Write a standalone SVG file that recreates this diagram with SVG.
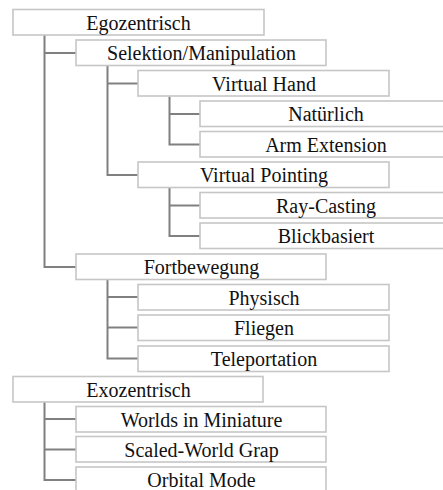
<svg xmlns="http://www.w3.org/2000/svg" width="443" height="490" viewBox="0 0 443 490">
<style>
.box{fill:#ffffff;stroke:#c6c6c6;stroke-width:1.6}
.con{fill:none;stroke:#808080;stroke-width:2}
</style>
<rect width="443" height="490" fill="#ffffff"/>
<g id="connectors">
<path class="con" d="M44.5,35 V267 H76"/>
<path class="con" d="M44.5,53 H76"/>
<path class="con" d="M107.5,66 V175 H138"/>
<path class="con" d="M107.5,83.5 H138"/>
<path class="con" d="M169.5,96.5 V144.5 H200"/>
<path class="con" d="M169.5,114 H200"/>
<path class="con" d="M169.5,188 V236 H200"/>
<path class="con" d="M169.5,205.5 H200"/>
<path class="con" d="M107.5,279.5 V358.5 H138"/>
<path class="con" d="M107.5,297 H138"/>
<path class="con" d="M107.5,327.5 H138"/>
<path class="con" d="M44.5,402 V480 H76"/>
<path class="con" d="M44.5,419 H76"/>
<path class="con" d="M44.5,449.5 H76"/>
</g>
<g id="n-egozentrisch"><rect class="box" x="13" y="9.5" width="251" height="25.5"/><text style="font-family:'Liberation Serif',serif;font-size:20px;fill:#111;text-anchor:middle" x="138.5" y="29.5">Egozentrisch</text></g>
<g id="n-selektion"><rect class="box" x="76" y="40" width="250" height="25.5"/><text style="font-family:'Liberation Serif',serif;font-size:20px;fill:#111;text-anchor:middle" x="201.5" y="60">Selektion/Manipulation</text></g>
<g id="n-virtualhand"><rect class="box" x="138" y="70.5" width="251" height="25.5"/><text style="font-family:'Liberation Serif',serif;font-size:20px;fill:#111;text-anchor:middle" x="264" y="90.5">Virtual Hand</text></g>
<g id="n-natuerlich"><rect class="box" x="200" y="101" width="252" height="25.5"/><text style="font-family:'Liberation Serif',serif;font-size:20px;fill:#111;text-anchor:middle" x="326" y="121">Natürlich</text></g>
<g id="n-armextension"><rect class="box" x="200" y="131.5" width="252" height="25.5"/><text style="font-family:'Liberation Serif',serif;font-size:20px;fill:#111;text-anchor:middle" x="326" y="151.5">Arm Extension</text></g>
<g id="n-virtualpointing"><rect class="box" x="138" y="162" width="251" height="25.5"/><text style="font-family:'Liberation Serif',serif;font-size:20px;fill:#111;text-anchor:middle" x="264" y="182">Virtual Pointing</text></g>
<g id="n-raycasting"><rect class="box" x="200" y="192.5" width="252" height="25.5"/><text style="font-family:'Liberation Serif',serif;font-size:20px;fill:#111;text-anchor:middle" x="326" y="212.5">Ray-Casting</text></g>
<g id="n-blickbasiert"><rect class="box" x="200" y="223" width="252" height="25.5"/><text style="font-family:'Liberation Serif',serif;font-size:20px;fill:#111;text-anchor:middle" x="326" y="243">Blickbasiert</text></g>
<g id="n-fortbewegung"><rect class="box" x="76" y="254" width="250" height="25.5"/><text style="font-family:'Liberation Serif',serif;font-size:20px;fill:#111;text-anchor:middle" x="201.5" y="274">Fortbewegung</text></g>
<g id="n-physisch"><rect class="box" x="138" y="284.5" width="251" height="25.5"/><text style="font-family:'Liberation Serif',serif;font-size:20px;fill:#111;text-anchor:middle" x="264" y="304.5">Physisch</text></g>
<g id="n-fliegen"><rect class="box" x="138" y="315" width="251" height="25.5"/><text style="font-family:'Liberation Serif',serif;font-size:20px;fill:#111;text-anchor:middle" x="264" y="335">Fliegen</text></g>
<g id="n-teleportation"><rect class="box" x="138" y="346" width="251" height="25.5"/><text style="font-family:'Liberation Serif',serif;font-size:20px;fill:#111;text-anchor:middle" x="264" y="366">Teleportation</text></g>
<g id="n-exozentrisch"><rect class="box" x="13" y="376.5" width="250" height="25.5"/><text style="font-family:'Liberation Serif',serif;font-size:20px;fill:#111;text-anchor:middle" x="138.5" y="396.5">Exozentrisch</text></g>
<g id="n-wim"><rect class="box" x="76" y="406.5" width="250" height="25.5"/><text style="font-family:'Liberation Serif',serif;font-size:20px;fill:#111;text-anchor:middle" x="201.5" y="426.5">Worlds in Miniature</text></g>
<g id="n-scaledworld"><rect class="box" x="76" y="436.5" width="250" height="25.5"/><text style="font-family:'Liberation Serif',serif;font-size:20px;fill:#111;text-anchor:middle" x="201.5" y="456.5">Scaled-World Grap</text></g>
<g id="n-orbital"><rect class="box" x="76" y="467" width="250" height="25.5"/><text style="font-family:'Liberation Serif',serif;font-size:20px;fill:#111;text-anchor:middle" x="201.5" y="487">Orbital Mode</text></g>
</svg>
